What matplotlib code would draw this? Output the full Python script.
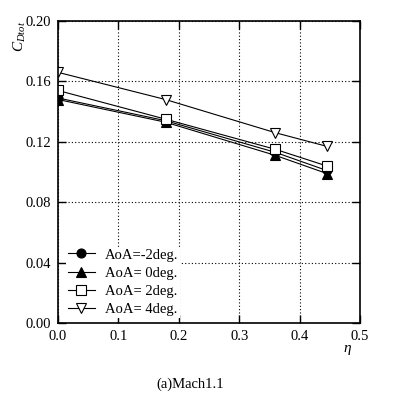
import matplotlib
matplotlib.use("Agg")
import matplotlib.pyplot as plt

plt.rcParams['font.family'] = ['Liberation Serif', 'DejaVu Serif']
plt.rcParams['mathtext.fontset'] = 'custom'
plt.rcParams['mathtext.rm'] = 'Liberation Serif'
plt.rcParams['mathtext.it'] = 'Liberation Serif:italic'

eta = [0.0, 0.178, 0.36, 0.445]
cd_m2 = [0.149, 0.134, 0.113, 0.101]
cd_0 = [0.148, 0.133, 0.111, 0.099]
cd_2 = [0.154, 0.135, 0.115, 0.104]
cd_4 = [0.166, 0.148, 0.126, 0.117]
labels = ['AoA=-2deg.', 'AoA= 0deg.', 'AoA= 2deg.', 'AoA= 4deg.']
xticks = [0.0, 0.1, 0.2, 0.3, 0.4, 0.5]
yticks = [0.00, 0.04, 0.08, 0.12, 0.16, 0.20]

fig = plt.figure(figsize=(4.11, 3.99), dpi=100)
ax = fig.add_axes([58/411, 76/399, 302/411, 302/399])

styles = [
    dict(marker='o', mfc='black', mec='black'),
    dict(marker='^', mfc='black', mec='black'),
    dict(marker='s', mfc='white', mec='black'),
    dict(marker='v', mfc='white', mec='black'),
]
for ys, lab, st in zip([cd_m2, cd_0, cd_2, cd_4], labels, styles):
    ax.plot(eta, ys, color='black', lw=0.8, ms=6.5, mew=0.8, label=lab, **st)

ax.set_xlim(0, 0.5)
ax.set_ylim(0, 0.2)
ax.set_xticks(xticks)
ax.set_yticks(yticks)
ax.set_xticklabels([f"{t:.1f}" for t in xticks])
ax.set_yticklabels([f"{t:.2f}" for t in yticks])
ax.tick_params(direction='in', length=6, width=1, top=True, right=True,
               labelsize=10.5, pad=5)
for s in ax.spines.values():
    s.set_linewidth(1.2)
    s.set_zorder(6)
ax.grid(True, color='black', linestyle=(0, (1, 2)), linewidth=0.8)

ax.text(-0.125, 1.0, r'$C_{Dtot}$', transform=ax.transAxes, rotation=90,
        ha='center', va='top', fontsize=11)
ax.text(0.96, -0.09, r'$\eta$', transform=ax.transAxes, ha='center', va='center',
        fontsize=11)
fig.text(190/411, 1 - 384/399, '(a)Mach1.1', ha='center', va='center', fontsize=10.5)

leg = ax.legend(loc='lower left', bbox_to_anchor=(0.01, 0.0), frameon=True,
                fontsize=10.5, handlelength=1.85, labelspacing=0.35,
                handletextpad=0.7, borderpad=0.1, borderaxespad=0.35,
                fancybox=False, framealpha=1.0)
leg.get_frame().set_facecolor('white')
leg.get_frame().set_edgecolor('none')

fig.savefig('out.png', dpi=100, facecolor='white')
